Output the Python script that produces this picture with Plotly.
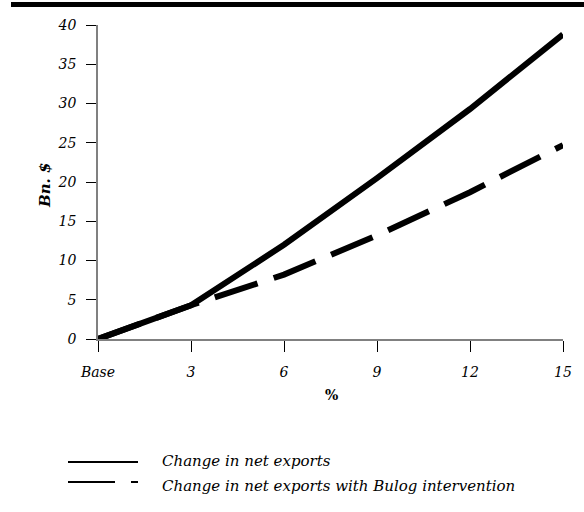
import plotly.graph_objects as go

# ---- data ----
x_vals = [0, 3, 6, 9, 12, 15]
x_labels = ["Base", "3", "6", "9", "12", "15"]
net_exports = [0, 4.3, 12.0, 20.5, 29.3, 38.8]
net_exports_bulog = [0, 4.3, 8.2, 13.2, 18.7, 24.7]
y_ticks = [0, 5, 10, 15, 20, 25, 30, 35, 40]
series_names = ["Change in net exports", "Change in net exports with Bulog intervention"]

W, H = 584, 512
L, R, T, B = 98, 21, 25, 173
pw, ph = W - L - R, H - T - B

def px(xp):
    return (xp - L) / pw

def py(yp):
    return (H - B - yp) / ph

FONT = "DejaVu Serif"
FS = 14

fig = go.Figure()
fig.add_trace(go.Scatter(
    x=x_vals, y=net_exports_bulog, mode="lines", name=series_names[1],
    line=dict(color="black", width=6, dash="45px,17px"), showlegend=False,
))
fig.add_trace(go.Scatter(
    x=x_vals, y=net_exports, mode="lines", name=series_names[0],
    line=dict(color="black", width=6), showlegend=False,
))

fig.update_layout(
    width=W, height=H,
    margin=dict(l=L, r=R, t=T, b=B, pad=0),
    paper_bgcolor="white", plot_bgcolor="white",
    font=dict(family=FONT, size=FS, color="black", style="italic"),
    xaxis=dict(
        range=[0, 15], tickvals=x_vals, ticktext=x_labels,
        showgrid=False, zeroline=False,
        showline=True, linecolor="#808080", linewidth=1.5,
        ticks="outside", ticklen=11, tickcolor="black", tickwidth=1,
        ticklabelstandoff=8,
        tickfont=dict(family=FONT, size=FS, style="italic"),
    ),
    yaxis=dict(
        range=[0, 40], tickvals=y_ticks,
        showgrid=False, zeroline=False,
        showline=True, linecolor="#808080", linewidth=1.5,
        ticks="outside", ticklen=10, tickcolor="black", tickwidth=1,
        ticklabelstandoff=7,
        tickfont=dict(family=FONT, size=FS, style="italic"),
    ),
)

shapes = [
    # top rule
    dict(type="rect", xref="paper", yref="paper",
         x0=px(11), x1=px(590), y0=py(7), y1=py(2),
         fillcolor="black", line=dict(width=0)),
    # legend samples
    dict(type="line", xref="paper", yref="paper",
         x0=px(68), x1=px(138), y0=py(462), y1=py(462),
         line=dict(color="black", width=2)),
    dict(type="line", xref="paper", yref="paper",
         x0=px(68), x1=px(115), y0=py(482), y1=py(482),
         line=dict(color="black", width=2)),
    dict(type="line", xref="paper", yref="paper",
         x0=px(131), x1=px(138), y0=py(482), y1=py(482),
         line=dict(color="black", width=2)),
]
fig.update_layout(shapes=shapes)

annotations = [
    dict(text="<b>Bn. $</b>", xref="paper", yref="paper", x=px(45), y=py(186),
         textangle=-90, showarrow=False, xanchor="center", yanchor="middle",
         font=dict(family=FONT, size=15, style="italic")),
    dict(text="<b>%</b>", xref="paper", yref="paper", x=px(331), y=py(395),
         showarrow=False, xanchor="center", yanchor="middle",
         font=dict(family=FONT, size=14, style="normal")),
    dict(text=series_names[0], xref="paper", yref="paper", x=px(160), y=py(461),
         showarrow=False, xanchor="left", yanchor="middle",
         font=dict(family=FONT, size=15, style="italic")),
    dict(text=series_names[1], xref="paper", yref="paper", x=px(160), y=py(486),
         showarrow=False, xanchor="left", yanchor="middle",
         font=dict(family=FONT, size=15, style="italic")),
]
fig.update_layout(annotations=annotations)

fig.write_html("out.html", config={"displayModeBar": False},
               post_script="document.body.style.margin='0px';")
